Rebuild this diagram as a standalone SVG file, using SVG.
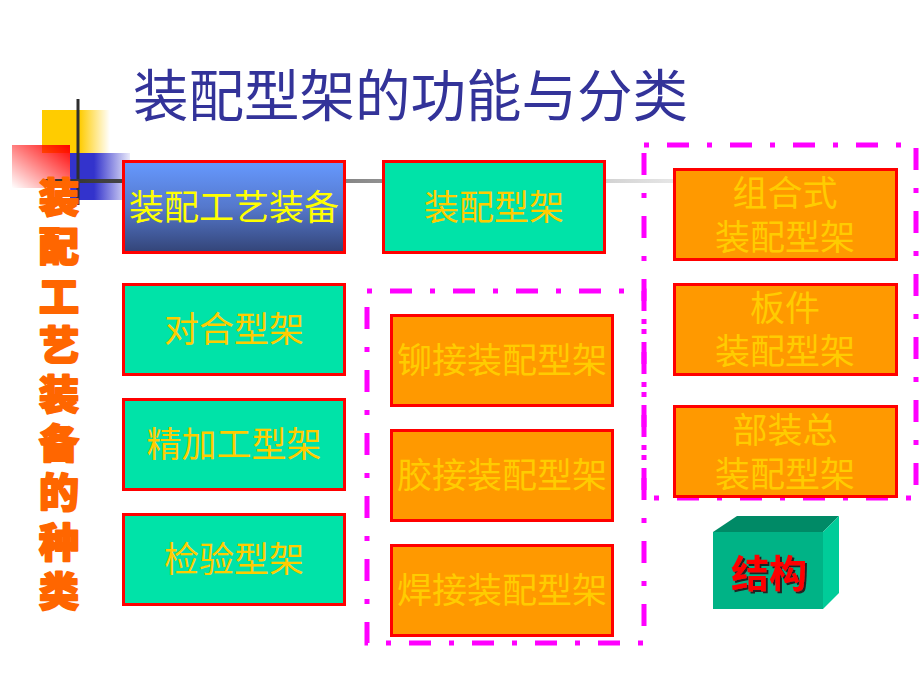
<svg xmlns="http://www.w3.org/2000/svg" width="920" height="690" viewBox="0 0 920 690">
<defs>
<linearGradient id="gY" x1="0" y1="0" x2="1" y2="0"><stop offset="0.55" stop-color="#FFCC00"/><stop offset="1" stop-color="#FFCC00" stop-opacity="0"/></linearGradient>
<linearGradient id="gB" x1="0" y1="0" x2="1" y2="0"><stop offset="0.4" stop-color="#3333CC"/><stop offset="1" stop-color="#3333CC" stop-opacity="0.1"/></linearGradient>
<linearGradient id="gR" x1="1" y1="0" x2="0" y2="1"><stop offset="0" stop-color="#FF0000"/><stop offset="1" stop-color="#FF0000" stop-opacity="0"/></linearGradient>
<linearGradient id="gL" gradientUnits="userSpaceOnUse" x1="44" y1="0" x2="673" y2="0"><stop offset="0" stop-color="#2e2e2e"/><stop offset="1" stop-color="#e6e6e6"/></linearGradient>
<linearGradient id="gBox" x1="0" y1="0" x2="0" y2="1"><stop offset="0" stop-color="#6699FF"/><stop offset="0.5" stop-color="#5578CC"/><stop offset="1" stop-color="#334477"/></linearGradient>
<filter id="shadow" x="-10%" y="-10%" width="130%" height="130%"><feDropShadow dx="2" dy="2" stdDeviation="0.5" flood-color="#222222" flood-opacity="1"/></filter>
<style>
.t{font-family:"Noto Sans CJK SC","Noto Sans",sans-serif;font-size:35px;text-anchor:middle}
.g rect{fill:#00E3A8;stroke:#FF0000;stroke-width:3}
.o rect{fill:#FF9900;stroke:#FF0000;stroke-width:3}
.g text,.o text{fill:#FFCC00}
.dash{fill:none;stroke:#FF00FF;stroke-width:5;stroke-dasharray:5 18 22 18}
</style>
</defs>
<rect width="920" height="690" fill="#FFFFFF"/>

<g id="decoration">
<rect x="42" y="110" width="68" height="43" fill="url(#gY)"/>
<rect x="70" y="153" width="60" height="47" fill="url(#gB)"/>
<rect x="12" y="145" width="58" height="43" fill="url(#gR)"/>
<line x1="78" y1="99" x2="78" y2="205" stroke="#2e2e2e" stroke-width="3"/>
</g>

<g id="connectors">
<line x1="44" y1="181" x2="673" y2="181" stroke="url(#gL)" stroke-width="4"/>
</g>

<text id="title" x="133" y="116" font-family="'Noto Sans CJK SC','Noto Sans',sans-serif" font-size="55.5" fill="#333399">装配型架的功能与分类</text>

<text id="side-title" x="59" y="177" writing-mode="vertical-rl" letter-spacing="9.2" font-family="'Noto Sans CJK SC',sans-serif" font-size="40" font-weight="900" fill="#FF6600" stroke="#FF6600" stroke-width="2" stroke-linejoin="round">装配工艺装备的种类</text>

<rect class="dash" x="367" y="291" width="277" height="352"/>
<rect class="dash" x="644" y="145" width="272" height="353"/>

<g id="n-zhuangpei-gongyi">
<rect x="123.5" y="161.5" width="221" height="91" fill="url(#gBox)" stroke="#FF0000" stroke-width="3"/>
<text class="t" x="234" y="220" fill="#FFFF00">装配工艺装备</text>
</g>
<g id="n-zhuangpei-xingjia" class="g">
<rect x="383.5" y="161.5" width="221" height="91"/>
<text class="t" x="494" y="220">装配型架</text>
</g>
<g id="n-duihe" class="g">
<rect x="123.5" y="284.5" width="221" height="90"/>
<text class="t" x="234" y="342">对合型架</text>
</g>
<g id="n-jingjiagong" class="g">
<rect x="123.5" y="399.5" width="221" height="90"/>
<text class="t" x="234" y="457">精加工型架</text>
</g>
<g id="n-jianyan" class="g">
<rect x="123.5" y="514.5" width="221" height="90"/>
<text class="t" x="234" y="572">检验型架</text>
</g>

<g id="n-maojie" class="o">
<rect x="391.5" y="315.5" width="221" height="90"/>
<text class="t" x="502" y="373">铆接装配型架</text>
</g>
<g id="n-jiaojie" class="o">
<rect x="391.5" y="430.5" width="221" height="90"/>
<text class="t" x="502" y="488">胶接装配型架</text>
</g>
<g id="n-hanjie" class="o">
<rect x="391.5" y="545.5" width="221" height="90"/>
<text class="t" x="502" y="603">焊接装配型架</text>
</g>

<g id="n-zuhe" class="o">
<rect x="674.5" y="169.5" width="222" height="90"/>
<text class="t" x="785"><tspan x="785" y="206">组合式</tspan><tspan x="785" y="250">装配型架</tspan></text>
</g>
<g id="n-banjian" class="o">
<rect x="674.5" y="284.5" width="222" height="90"/>
<text class="t" x="785"><tspan x="785" y="321">板件</tspan><tspan x="785" y="364">装配型架</tspan></text>
</g>
<g id="n-buzhuang" class="o">
<rect x="674.5" y="406.5" width="222" height="90"/>
<text class="t" x="785"><tspan x="785" y="443">部装总</tspan><tspan x="785" y="487">装配型架</tspan></text>
</g>

<g id="n-jiegou">
<polygon points="713,532 737,516 839,516 823,532" fill="#008A66"/>
<polygon points="823,532 839,516 839,593 823,609" fill="#00CC99"/>
<rect x="713" y="532" width="110" height="77" fill="#00B386"/>
<text x="769" y="587" font-family="'Noto Sans CJK SC',sans-serif" font-size="38" font-weight="bold" fill="#FF0000" text-anchor="middle" filter="url(#shadow)">结构</text>
</g>
</svg>
